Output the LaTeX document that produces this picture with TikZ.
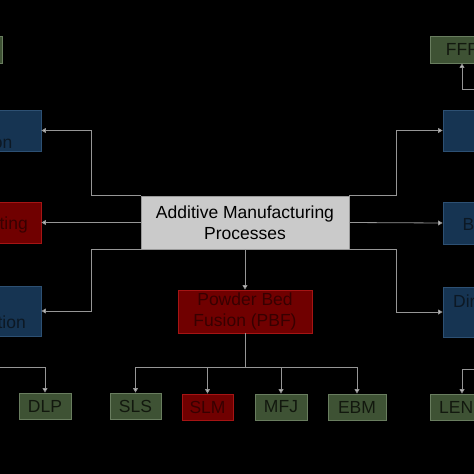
\documentclass[tikz,border=0pt]{standalone}
\usepackage{fontspec}
\setmainfont{Liberation Sans}
\usetikzlibrary{arrows.meta}

\definecolor{boxgray}{RGB}{202,202,202}
\definecolor{boxgreen}{RGB}{62,82,52}
\definecolor{edgegreen}{RGB}{105,125,95}
\definecolor{boxblue}{RGB}{22,52,82}
\definecolor{edgeblue}{RGB}{45,80,115}
\definecolor{boxred}{RGB}{112,0,0}
\definecolor{edgered}{RGB}{165,20,20}
\definecolor{inkblue}{RGB}{12,24,36}
\definecolor{inkred}{RGB}{55,0,0}
\definecolor{inkgreen}{RGB}{18,24,14}
\definecolor{wire}{RGB}{150,150,150}
\definecolor{tipgray}{RGB}{195,195,195}

\tikzset{
  box/.style={draw, line width=0.9pt, inner sep=0pt, align=center, font=\fontsize{17.5}{20.5}\selectfont},
  graybox/.style={box, fill=boxgray, draw=gray!80, text=black},
  greenbox/.style={box, fill=boxgreen, draw=edgegreen, text=inkgreen},
  bluebox/.style={box, fill=boxblue, draw=edgeblue, text=inkblue},
  redbox/.style={box, fill=boxred, draw=edgered, text=inkred},
  cut/.style={inner sep=0pt, font=\fontsize{17.5}{20.5}\selectfont},
  arr/.style={draw=wire, line width=0.8pt, -{Triangle[width=5pt,length=4.5pt,fill=tipgray]}},
  wireline/.style={draw=wire, line width=0.8pt}
}

\begin{document}
\begin{tikzpicture}[x=1pt, y=-1pt]
\useasboundingbox (0,0) rectangle (474,474);
\fill[black] (0,0) rectangle (474,474);
\clip (0,0) rectangle (474,474);

\node[graybox, minimum width=208pt, minimum height=53pt] (am) at (245,222.5) {Additive Manufacturing\\Processes};

\node[greenbox, minimum width=64pt, minimum height=27pt] (ltg) at (-30,49.5) {};
\node[bluebox, minimum width=100pt, minimum height=41pt] (ltb) at (-9,130.5) {};
\node[redbox, minimum width=100pt, minimum height=41pt] (lmr) at (-9,222.5) {};
\node[bluebox, minimum width=100pt, minimum height=50pt] (lbb) at (-9,311) {};
\node[cut, text=inkblue, anchor=base east] (ltbtext) at (12.5,148) {on};
\node[cut, text=inkred, anchor=base east] (lmrtext) at (28,229.5) {ting};
\node[cut, text=inkblue, anchor=base east] (lbbtext) at (26,328) {tion};

\node[greenbox, minimum width=64pt, minimum height=27pt] (fff) at (462,49.5) {FFF};
\node[bluebox, minimum width=100pt, minimum height=41pt] (rtb) at (493,130.5) {};
\node[bluebox, minimum width=100pt, minimum height=42pt] (rmb) at (493,223) {};
\node[bluebox, minimum width=100pt, minimum height=50pt] (rbb) at (493,312) {};
\node[cut, text=inkblue, anchor=base west] (rmbtext) at (462.5,230) {B};
\node[cut, text=inkblue, anchor=base west] (rbbtext) at (453,307) {Dir};

\node[redbox, minimum width=134pt, minimum height=43pt] (pbf) at (245,311.5) {Powder Bed\\Fusion (PBF)};

\node[greenbox, minimum width=52pt, minimum height=26pt] (dlp) at (45,406) {DLP};
\node[greenbox, minimum width=51pt, minimum height=26pt] (sls) at (135.5,406) {SLS};
\node[redbox, minimum width=51pt, minimum height=26pt] (slm) at (207.5,407) {SLM};
\node[greenbox, minimum width=52pt, minimum height=26pt] (mfj) at (281,407) {MFJ};
\node[greenbox, minimum width=58pt, minimum height=26pt] (ebm) at (357,407) {EBM};
\node[greenbox, minimum width=64pt, minimum height=26pt] (lens) at (462,407) {};
\node[cut, text=inkgreen, anchor=base west] (lenstext) at (439,413.5) {LEN};

\coordinate (dlpturn) at (45,367);
\coordinate (bus) at (245,367);
\coordinate (lensturn) at (462,369);
\coordinate (fffturn) at (462,89);

\draw[arr] (am.north west) -- ([xshift=-49pt]am.north west) |- (ltb.east);
\draw[arr] (am.west) -- (lmr.east);
\draw[arr] (am.south west) -- ([xshift=-49pt]am.south west) |- (lbb.east);
\draw[arr] (am.north east) -- ([xshift=47pt]am.north east) |- (rtb.west);
\draw[arr] (am.east) -- (rmb.west);
\draw[arr] (am.south east) -- ([xshift=47pt]am.south east) |- (rbb.west);
\draw[arr] (am.south) -- (pbf.north);

\draw[wireline] (pbf.south) -- (bus);
\foreach \n in {sls,slm,mfj,ebm}
  \draw[arr] (bus) -| (\n.north);

\draw[arr] (lbb.south) |- (dlpturn) -- (dlp.north);
\draw[arr] (rbb.south) |- (lensturn) -- (lens.north);
\draw[arr] (rtb.north) |- (fffturn) -- (fff.south);
\end{tikzpicture}
\end{document}
